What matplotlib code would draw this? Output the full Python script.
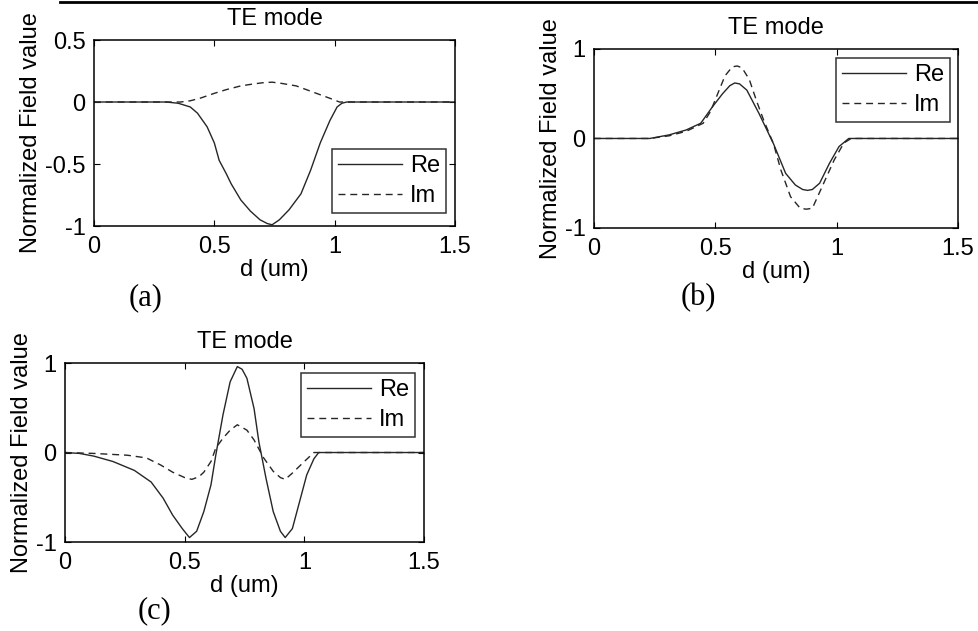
import matplotlib
matplotlib.use("Agg")
import matplotlib.pyplot as plt
from matplotlib.lines import Line2D

plt.rcParams['font.family'] = ['Liberation Sans', 'DejaVu Sans']
plt.rcParams['axes.unicode_minus'] = False

# field profiles, d in um
d_a_re = [0, 0.30, 0.35, 0.40, 0.43, 0.47, 0.50, 0.52, 0.55, 0.57, 0.61, 0.65, 0.69, 0.72,
          0.74, 0.77, 0.81, 0.86, 0.90, 0.94, 0.98, 1.01, 1.03, 1.05, 1.5]
re_a = [0, 0, -0.01, -0.04, -0.09, -0.20, -0.33, -0.47, -0.58, -0.66, -0.79, -0.88, -0.95, -0.98,
        -0.99, -0.95, -0.87, -0.74, -0.55, -0.33, -0.15, -0.04, -0.01, 0, 0]
d_a_im = [0, 0.36, 0.40, 0.44, 0.50, 0.55, 0.61, 0.66, 0.70, 0.74, 0.78, 0.84, 0.91, 0.98, 1.02, 1.5]
im_a = [0, 0, 0.01, 0.03, 0.07, 0.10, 0.13, 0.145, 0.155, 0.16, 0.15, 0.13, 0.08, 0.03, 0, 0]

d_b_re = [0, 0.23, 0.31, 0.38, 0.44, 0.49, 0.53, 0.56, 0.58, 0.60, 0.63, 0.68, 0.74, 0.79,
          0.83, 0.86, 0.88, 0.90, 0.93, 0.97, 1.01, 1.05, 1.5]
re_b = [0, 0, 0.04, 0.095, 0.17, 0.36, 0.50, 0.59, 0.62, 0.61, 0.54, 0.28, -0.06, -0.39,
        -0.52, -0.57, -0.58, -0.57, -0.50, -0.28, -0.09, 0, 0]
d_b_im = [0, 0.23, 0.31, 0.38, 0.45, 0.48, 0.51, 0.54, 0.57, 0.59, 0.61, 0.64, 0.67, 0.70,
          0.74, 0.77, 0.81, 0.85, 0.875, 0.90, 0.94, 0.99, 1.03, 1.06, 1.5]
im_b = [0, 0, 0.03, 0.08, 0.17, 0.30, 0.50, 0.70, 0.80, 0.81, 0.79, 0.66, 0.42, 0.20,
        -0.06, -0.35, -0.65, -0.78, -0.79, -0.78, -0.54, -0.24, -0.05, 0, 0]

d_c_re = [0, 0.06, 0.12, 0.20, 0.29, 0.36, 0.41, 0.45, 0.49, 0.52, 0.55, 0.58, 0.61, 0.63,
          0.66, 0.69, 0.72, 0.74, 0.76, 0.79, 0.81, 0.84, 0.87, 0.90, 0.92, 0.95, 0.98, 1.01,
          1.04, 1.06, 1.5]
re_c = [0, -0.01, -0.04, -0.10, -0.20, -0.33, -0.51, -0.70, -0.85, -0.95, -0.88, -0.66, -0.36, -0.03,
        0.42, 0.79, 0.96, 0.93, 0.83, 0.49, 0.12, -0.29, -0.66, -0.88, -0.95, -0.85, -0.55, -0.25,
        -0.07, 0, 0]
d_c_im = [0, 0.12, 0.26, 0.34, 0.40, 0.45, 0.50, 0.53, 0.56, 0.58, 0.61, 0.63, 0.66, 0.69,
          0.72, 0.76, 0.79, 0.83, 0.87, 0.90, 0.92, 0.95, 1.00, 1.04, 1.5]
im_c = [0, -0.01, -0.03, -0.06, -0.14, -0.22, -0.28, -0.30, -0.27, -0.22, -0.10, 0.05, 0.16, 0.25,
        0.31, 0.25, 0.14, -0.06, -0.21, -0.28, -0.30, -0.23, -0.10, 0, 0]

x_ticks = [0, 0.5, 1, 1.5]
x_ticklabels = ['0', '0.5', '1', '1.5']

panels = [
    # rect, re, im, ylim, yticks, yticklabels, legend loc, legend anchor, tag, tag pos
    ([0.0960, 0.6418, 0.3688, 0.2948], (d_a_re, re_a), (d_a_im, im_a), (-1, 0.5),
     [-1, -0.5, 0, 0.5], ['-1', '-0.5', '0', '0.5'], 'lower right', (0.975, 0.07), '(a)', (146, 298)),
    ([0.6067, 0.6387, 0.3718, 0.2837], (d_b_re, re_b), (d_b_im, im_b), (-1, 1),
     [-1, 0, 1], ['-1', '0', '1'], 'upper right', (0.978, 0.95), '(b)', (698, 298)),
    ([0.0664, 0.1410, 0.3667, 0.2837], (d_c_re, re_c), (d_c_im, im_c), (-1, 1),
     [-1, 0, 1], ['-1', '0', '1'], 'upper right', (0.975, 0.944), '(c)', (155, 611)),
]

W, H = 979, 631
fig = plt.figure(figsize=(W / 100, H / 100), dpi=100)

fs = 17
for rect, re, im, ylim, yt, ytl, loc, anchor, tag, tpos in panels:
    ax = fig.add_axes(rect)
    ax.plot(re[0], re[1], color='#262626', lw=1.0, label='Re')
    ax.plot(im[0], im[1], color='#262626', lw=1.0, dashes=(5, 3.5), label='Im')
    ax.set_xlim(0, 1.5)
    ax.set_ylim(*ylim)
    ax.set_xticks(x_ticks)
    ax.set_xticklabels(x_ticklabels)
    ax.set_yticks(yt)
    ax.set_yticklabels(ytl)
    ax.tick_params(direction='in', top=True, right=True, length=4, width=0.8,
                   labelsize=fs)
    ax.tick_params(axis='x', pad=7)
    ax.tick_params(axis='y', pad=6)
    for s in ax.spines.values():
        s.set_linewidth(1.1)
    ax.set_title('TE mode', fontsize=fs, pad=11)
    ax.set_xlabel('d (um)', fontsize=fs, labelpad=1)
    ax.set_ylabel('Normalized Field value', fontsize=fs, labelpad=2)
    leg = ax.legend(loc=loc, bbox_to_anchor=anchor, fontsize=fs, frameon=True,
                    fancybox=False, edgecolor='black', handlelength=2.7,
                    handletextpad=0.35, borderpad=0.25, labelspacing=0.35,
                    borderaxespad=0)
    leg.get_frame().set_linewidth(1.1)
    fig.text(tpos[0] / W, 1 - tpos[1] / H, tag, family='Liberation Serif',
             fontsize=22, ha='center', va='center')

# rule along the top edge
fig.add_artist(Line2D([60 / W, 1], [1 - 2 / H, 1 - 2 / H], color='black', lw=2.0))

fig.savefig('out.png', dpi=100)
